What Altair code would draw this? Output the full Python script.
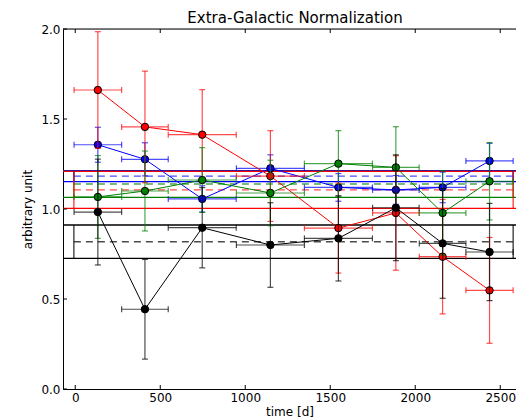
import altair as alt
import pandas as pd

# ---- data ----
x_center = [133, 410, 747, 1148, 1548, 1886, 2161, 2437]
x_half = [140, 137, 200, 200, 200, 137, 137, 139]

series_names = ["blue", "red", "green", "black"]
series_colors = {"blue": "#0000ff", "red": "#ff0000", "green": "#008000", "black": "#000000"}

values = {
    "red":   [1.661, 1.456, 1.413, 1.183, 0.894, 0.978, 0.735, 0.548],
    "blue":  [1.357, 1.276, 1.056, 1.226, 1.120, 1.106, 1.120, 1.267],
    "green": [1.067, 1.100, 1.161, 1.089, 1.252, 1.231, 0.978, 1.154],
    "black": [0.983, 0.443, 0.896, 0.800, 0.837, 1.007, 0.809, 0.761],
}
errors = {
    "red":   [0.324, 0.310, 0.250, 0.252, 0.250, 0.318, 0.318, 0.294],
    "blue":  [0.097, 0.092, 0.073, 0.075, 0.077, 0.080, 0.085, 0.098],
    "green": [0.230, 0.222, 0.180, 0.182, 0.183, 0.226, 0.235, 0.215],
    "black": [0.294, 0.277, 0.223, 0.235, 0.237, 0.294, 0.305, 0.270],
}

band_order = ["black", "green", "blue", "red"]
band_lo = {"black": 0.726, "red": 1.003, "green": 1.065, "blue": 1.152}
band_hi = {"black": 0.911, "red": 1.209, "green": 1.213, "blue": 1.212}
band_mid = {"black": 0.818, "red": 1.106, "green": 1.139, "blue": 1.183}
box_x = [-8, 2576]

x_ticks = [0, 500, 1000, 1500, 2000, 2500]
y_ticks = [0.0, 0.5, 1.0, 1.5, 2.0]

XMIN, XMAX = -72, 2592.7
W, H = 453, 360
FONT = "DejaVu Sans"

xscale = alt.Scale(domain=[XMIN, XMAX], nice=False, zero=False)
yscale = alt.Scale(domain=[0, 2], nice=False, zero=False)
xaxis = alt.Axis(values=x_ticks, format="d", tickSize=0, labelPadding=3, domain=True,
                 domainColor="black", labelFontSize=12, titleFontSize=12,
                 titleFontWeight="normal", labelFont=FONT, titleFont=FONT, labelColor="black",
                 titleColor="black", grid=False, titlePadding=3)
yaxis = alt.Axis(values=y_ticks, format=".1f", tickSize=0, labelPadding=3, domain=True,
                 domainColor="black", labelFontSize=12, titleFontSize=12, titleFontWeight="normal",
                 labelFont=FONT, titleFont=FONT, labelColor="black", titleColor="black",
                 grid=False, titlePadding=6)


def X(f):
    return alt.X(f, type="quantitative", scale=xscale, axis=xaxis, title="time [d]")


def Y(f):
    return alt.Y(f, type="quantitative", scale=yscale, axis=yaxis, title="arbitrary unit")


# tables
rows = []
for s in series_names:
    for i in range(len(x_center)):
        v, e = values[s][i], errors[s][i]
        rows.append({"series": s, "x": x_center[i], "xlo": x_center[i] - x_half[i],
                     "xhi": x_center[i] + x_half[i], "y": v, "ylo": v - e, "yhi": v + e})
pts = pd.DataFrame(rows)

bands = pd.DataFrame([{"series": s, "lo": band_lo[s], "hi": band_hi[s], "mid": band_mid[s],
                       "x0": box_x[0], "x1": box_x[1]} for s in band_order])

layers = []
# full-width band lines
for s in band_order:
    d = bands[bands.series == s]
    c = series_colors[s]
    layers.append(alt.Chart(d).mark_rule(color=c, strokeWidth=1.3).encode(y=Y("lo")))
    layers.append(alt.Chart(d).mark_rule(color=c, strokeWidth=1.3).encode(y=Y("hi")))
    layers.append(alt.Chart(d).mark_rule(color=c, strokeWidth=1.3, opacity=0.7,
                                         strokeDash=[7, 5]).encode(
        x=X("x0"), x2=alt.X2("x1", title="time [d]"), y=Y("mid")))
for s in band_order:
    d = bands[bands.series == s]
    c = series_colors[s]
    for xf in ["x0", "x1"]:
        layers.append(alt.Chart(d).mark_rule(color=c, strokeWidth=1.3, opacity=0.8).encode(
            x=X(xf), y=Y("lo"), y2=alt.Y2("hi", title="arbitrary unit")))

# data series
for s in series_names:
    d = pts[pts.series == s]
    c = series_colors[s]
    eo = 0.7
    layers.append(alt.Chart(d).mark_rule(color=c, opacity=eo, strokeWidth=1.2).encode(
        x=X("xlo"), x2=alt.X2("xhi", title="time [d]"), y=Y("y")))
    for xf in ["xlo", "xhi"]:
        layers.append(alt.Chart(d).mark_tick(color=c, opacity=eo, orient="vertical", size=6,
                                             thickness=1.2).encode(x=X(xf), y=Y("y")))
    layers.append(alt.Chart(d).mark_rule(color=c, opacity=eo, strokeWidth=1.2).encode(
        x=X("x"), y=Y("ylo"), y2=alt.Y2("yhi", title="arbitrary unit")))
    for yf in ["ylo", "yhi"]:
        layers.append(alt.Chart(d).mark_tick(color=c, opacity=eo, orient="horizontal", size=6,
                                             thickness=1.2).encode(x=X("x"), y=Y(yf)))
    layers.append(alt.Chart(d).mark_line(color=c, strokeWidth=1).encode(x=X("x"), y=Y("y")))
    layers.append(alt.Chart(d).mark_point(filled=True, fill=c, stroke="black", strokeWidth=1,
                                          opacity=1, size=55, shape="circle").encode(
        x=X("x"), y=Y("y")))

# frame top and inside ticks
xt = pd.DataFrame({"t": x_ticks})
yt = pd.DataFrame({"t": y_ticks})
top = pd.DataFrame({"t": [2.0]})
layers.append(alt.Chart(top).mark_rule(color="black", strokeWidth=1).encode(y=Y("t")))
layers.append(alt.Chart(xt).mark_rule(color="black", strokeWidth=1).encode(
    x=X("t"), y=alt.value(H), y2=alt.value(H - 4)))
layers.append(alt.Chart(xt).mark_rule(color="black", strokeWidth=1).encode(
    x=X("t"), y=alt.value(0), y2=alt.value(4)))
layers.append(alt.Chart(yt).mark_rule(color="black", strokeWidth=1).encode(
    y=Y("t"), x=alt.value(0), x2=alt.value(4)))

chart = alt.layer(*layers).properties(
    width=W, height=H,
    title=alt.TitleParams("Extra-Galactic Normalization", font=FONT, fontSize=15,
                          fontWeight="normal", color="black", anchor="middle", frame="group",
                          offset=6, dx=5.5, dy=9),
    autosize=alt.AutoSizeParams(type="none"),
    padding={"left": 63, "top": 29, "right": 0, "bottom": 29},
).configure_view(stroke=None).configure(background="white")

chart.save("out.html", embed_options={"renderer": "svg", "actions": False})
